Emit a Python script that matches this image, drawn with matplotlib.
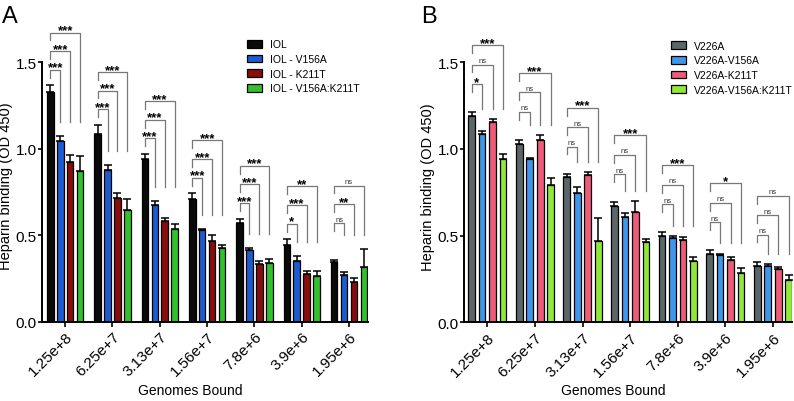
import numpy as np
import matplotlib
matplotlib.use('Agg')
import matplotlib.pyplot as plt

plt.rcParams['font.family'] = ['Liberation Sans', 'DejaVu Sans']

groups = ['1.25e+8', '6.25e+7', '3.13e+7', '1.56e+7', '7.8e+6', '3.9e+6', '1.95e+6']

# panel A
labels_a = ['IOL', 'IOL - V156A', 'IOL - K211T', 'IOL - V156A:K211T']
iol = [1.33, 1.087, 0.942, 0.711, 0.569, 0.445, 0.347]
iol_err = [0.035, 0.05, 0.027, 0.031, 0.026, 0.031, 0.011]
iol_v156a = [1.046, 0.879, 0.673, 0.53, 0.414, 0.349, 0.268]
iol_v156a_err = [0.03, 0.027, 0.025, 0.008, 0.01, 0.031, 0.021]
iol_k211t = [0.925, 0.713, 0.582, 0.468, 0.335, 0.276, 0.231]
iol_k211t_err = [0.04, 0.033, 0.02, 0.033, 0.018, 0.019, 0.02]
iol_double = [0.87, 0.646, 0.536, 0.424, 0.337, 0.262, 0.314]
iol_double_err = [0.085, 0.063, 0.03, 0.02, 0.025, 0.031, 0.106]
sig_a = [['***', '***', '***'], ['***', '***', '***'], ['***', '***', '***'],
         ['***', '***', '***'], ['***', '***', '***'], ['*', '***', '**'],
         ['ns', '**', 'ns']]

# panel B
labels_b = ['V226A', 'V226A-V156A', 'V226A-K211T', 'V226A-V156A:K211T']
v226a = [1.189, 1.029, 0.837, 0.669, 0.498, 0.392, 0.323]
v226a_err = [0.026, 0.025, 0.017, 0.025, 0.023, 0.025, 0.023]
v226a_v156a = [1.087, 0.94, 0.746, 0.606, 0.485, 0.39, 0.327]
v226a_v156a_err = [0.015, 0.008, 0.035, 0.026, 0.011, 0.006, 0.008]
v226a_k211t = [1.158, 1.05, 0.852, 0.635, 0.477, 0.359, 0.308]
v226a_k211t_err = [0.013, 0.031, 0.014, 0.065, 0.017, 0.02, 0.009]
v226a_double = [0.942, 0.792, 0.469, 0.465, 0.354, 0.286, 0.246]
v226a_double_err = [0.029, 0.04, 0.133, 0.014, 0.023, 0.025, 0.025]
sig_b = [['*', 'ns', '***'], ['ns', 'ns', '***'], ['ns', 'ns', '***'],
         ['ns', 'ns', '***'], ['ns', 'ns', '***'], ['ns', 'ns', '*'],
         ['ns', 'ns', 'ns']]

colors_a = ['#0a0a0a', '#1b5dd0', '#8a0c0c', '#33c02d']
colors_b = ['#5b6767', '#3f97ec', '#f15b7b', '#8fe83a']


def draw_panel(ax, vals, errs, colors, labels, sig, spacing, t_gap, r_gap, step):
    x = np.arange(len(groups))
    offs = (np.arange(4) - 1.5) * spacing
    for k in range(4):
        ax.bar(x + offs[k], vals[k], width=0.14, color=colors[k],
               edgecolor='black', linewidth=0.9, label=labels[k], zorder=2)
        ax.errorbar(x + offs[k], vals[k], yerr=[np.zeros(len(groups)), errs[k]],
                    fmt='none', ecolor='black', elinewidth=1.1, capsize=2.6,
                    capthick=1.1, zorder=1)

    tops = np.array(vals) + np.array(errs)
    for g in range(len(groups)):
        t0 = tops[0, g]
        rb = tops[1:, g].max() + r_gap
        h = max(t0 + t_gap, rb + 0.07)
        for j in range(3):
            x0 = x[g] + offs[0]
            x1 = x[g] + offs[j + 1]
            ax.plot([x0, x0, x1, x1], [h - 0.045, h, h, rb],
                    color='#777777', lw=0.9, zorder=3, clip_on=False)
            lab = sig[g][j]
            if lab == 'ns':
                ax.annotate(lab, ((x0 + x1) / 2, h), xytext=(0, 1.8),
                            textcoords='offset points', ha='center',
                            va='baseline', fontsize=5.5, color='#333333')
            else:
                ax.annotate(lab, ((x0 + x1) / 2, h), xytext=(0, -0.5),
                            textcoords='offset points', ha='center',
                            va='baseline', fontsize=9.5, fontweight='bold')
            h += step

    ax.set_ylim(0, 1.85)
    ax.set_xlim(-0.49, len(groups) - 1 + 0.4)
    ax.set_yticks([0, 0.5, 1.0, 1.5])
    ax.set_yticklabels(['0.0', '0.5', '1.0', '1.5'], fontsize=11)
    ax.set_xticks(x)
    ax.set_xticklabels(groups, rotation=45, ha='right', rotation_mode='anchor',
                       fontsize=11)
    ax.spines['top'].set_visible(False)
    ax.spines['right'].set_visible(False)
    ax.spines['left'].set_bounds(0, 1.5)
    ax.spines['left'].set_linewidth(1.4)
    ax.spines['bottom'].set_linewidth(1.4)
    ax.tick_params(axis='y', width=1.2, length=3, pad=0.8)
    ax.tick_params(axis='x', width=1.2, length=3.5, pad=2)
    ax.set_ylabel('Heparin binding (OD 450)', fontsize=10.5)
    ax.yaxis.set_label_coords(-0.089, 0.425)
    ax.set_xlabel('Genomes Bound', fontsize=10)
    ax.xaxis.set_label_coords(0.456, -0.19)


fig = plt.figure(figsize=(7.94, 4.02), dpi=100)
ax_a = fig.add_axes([42 / 794, 0.1973, 326 / 794, 0.7963])
ax_b = fig.add_axes([464 / 794, 0.1958, 328 / 794, 0.7975])

draw_panel(ax_a, [iol, iol_v156a, iol_k211t, iol_double],
           [iol_err, iol_v156a_err, iol_k211t_err, iol_double_err],
           colors_a, labels_a, sig_a, 0.21, 0.09, 0.08, 0.108)
draw_panel(ax_b, [v226a, v226a_v156a, v226a_k211t, v226a_double],
           [v226a_err, v226a_v156a_err, v226a_k211t_err, v226a_double_err],
           colors_b, labels_b, sig_b, 0.22, 0.16, 0.06, 0.112)

for ax, anchor in [(ax_a, (0.628, 0.882)), (ax_b, (0.63, 0.878))]:
    ax.legend(loc='upper left', bbox_to_anchor=anchor, frameon=False,
              fontsize=7.5, handlelength=1.5, handleheight=0.75,
              handletextpad=0.7, labelspacing=0.45, borderpad=0,
              borderaxespad=0)

fig.text(0.002, 0.985, 'A', fontsize=17, va='top', ha='left')
fig.text(0.531, 0.985, 'B', fontsize=17, va='top', ha='left')

fig.savefig('out.png', dpi=100)
